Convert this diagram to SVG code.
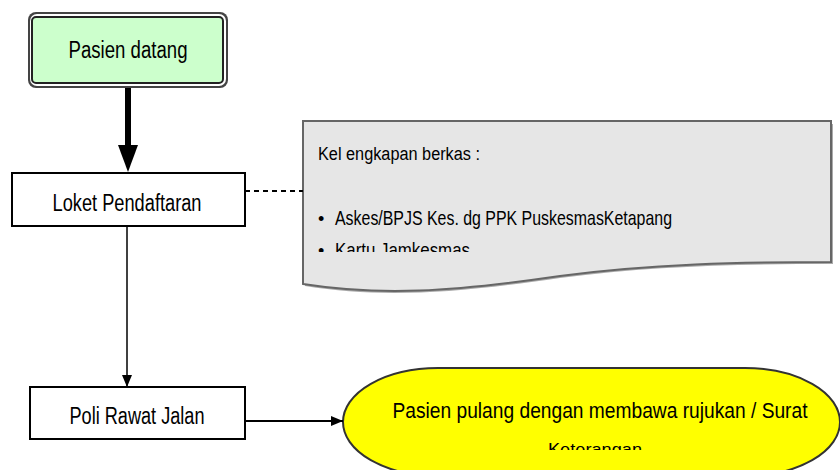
<svg xmlns="http://www.w3.org/2000/svg" width="840" height="470" viewBox="0 0 840 470">
<style>
.t{font-family:"Liberation Sans","DejaVu Sans",sans-serif;fill:#000;}
.box{fill:#fff;stroke:#000;stroke-width:2;}
.conn{stroke:#000;fill:none;}
</style>
<defs>
<marker id="ah" markerWidth="12" markerHeight="10" refX="12" refY="5" orient="auto" markerUnits="userSpaceOnUse">
<path d="M0,0 L12,5 L0,10 Z" fill="#000"/>
</marker>
<clipPath id="docclip"><rect x="300" y="120" width="540" height="132"/></clipPath>
<clipPath id="ellclip"><rect x="340" y="360" width="500" height="90"/></clipPath>
</defs>
<rect width="840" height="470" fill="#fff"/>

<g id="pasien-datang">
<rect x="28" y="12" width="200" height="76" rx="8" fill="#444"/>
<rect x="30" y="14" width="196" height="72" rx="7" fill="#fff"/>
<rect x="32" y="17" width="191" height="66" rx="4" fill="#ccffcc" stroke="#222" stroke-width="2"/>
<text class="t" x="128" y="58" font-size="23" text-anchor="middle" textLength="119" lengthAdjust="spacingAndGlyphs">Pasien datang</text>
</g>

<g id="loket">
<rect class="box" x="12" y="173" width="233" height="53"/>
<text class="t" x="127" y="211" font-size="23" text-anchor="middle" textLength="149" lengthAdjust="spacingAndGlyphs">Loket Pendaftaran</text>
</g>

<g id="kelengkapan">
<path d="M305,124 L833,124 L833,264 C740,264 650,266 560,278 C450,294 380,298 305,286 Z" fill="#555" opacity="0.5"/>
<path d="M303,121 L831,121 L831,262 C740,262 650,264 560,276 C450,292 380,296 303,284 Z" fill="#e6e6e6" stroke="#666" stroke-width="2"/>
<g clip-path="url(#docclip)">
<text class="t" x="318" y="160" font-size="18" textLength="162" lengthAdjust="spacingAndGlyphs">Kel engkapan berkas :</text>
<text class="t" x="318" y="225" font-size="18">•</text>
<text class="t" x="335" y="225" font-size="21" textLength="337" lengthAdjust="spacingAndGlyphs">Askes/BPJS Kes. dg PPK PuskesmasKetapang</text>
<text class="t" x="318" y="257" font-size="18">•</text>
<text class="t" x="335" y="257" font-size="21" textLength="135" lengthAdjust="spacingAndGlyphs">Kartu Jamkesmas</text>
</g>
</g>

<g id="poli">
<rect class="box" x="30" y="387" width="215" height="52"/>
<text class="t" x="137" y="424" font-size="23" text-anchor="middle" textLength="135" lengthAdjust="spacingAndGlyphs">Poli Rawat Jalan</text>
</g>

<g id="pulang">
<rect x="343" y="368" width="497" height="108" rx="95" ry="54" fill="#ffff00" stroke="#333" stroke-width="2"/>
<g clip-path="url(#ellclip)">
<text class="t" x="600" y="418" font-size="22" text-anchor="middle" textLength="415" lengthAdjust="spacingAndGlyphs">Pasien pulang dengan membawa rujukan / Surat</text>
<text class="t" x="595" y="455" font-size="17" text-anchor="middle" textLength="94" lengthAdjust="spacingAndGlyphs">Keterangan</text>
</g>
</g>

<g id="connectors">
<line class="conn" x1="128" y1="88" x2="128" y2="148" stroke-width="6"/>
<path d="M118,145 L138,145 L128,172 Z" fill="#000"/>
<line class="conn" x1="245" y1="191" x2="303" y2="191" stroke-width="2" stroke-dasharray="5,4"/>
<line class="conn" x1="127" y1="226" x2="127" y2="387" stroke-width="1.5" marker-end="url(#ah)"/>
<line class="conn" x1="245" y1="421" x2="343" y2="421" stroke-width="2" marker-end="url(#ah)"/>
</g>
</svg>
